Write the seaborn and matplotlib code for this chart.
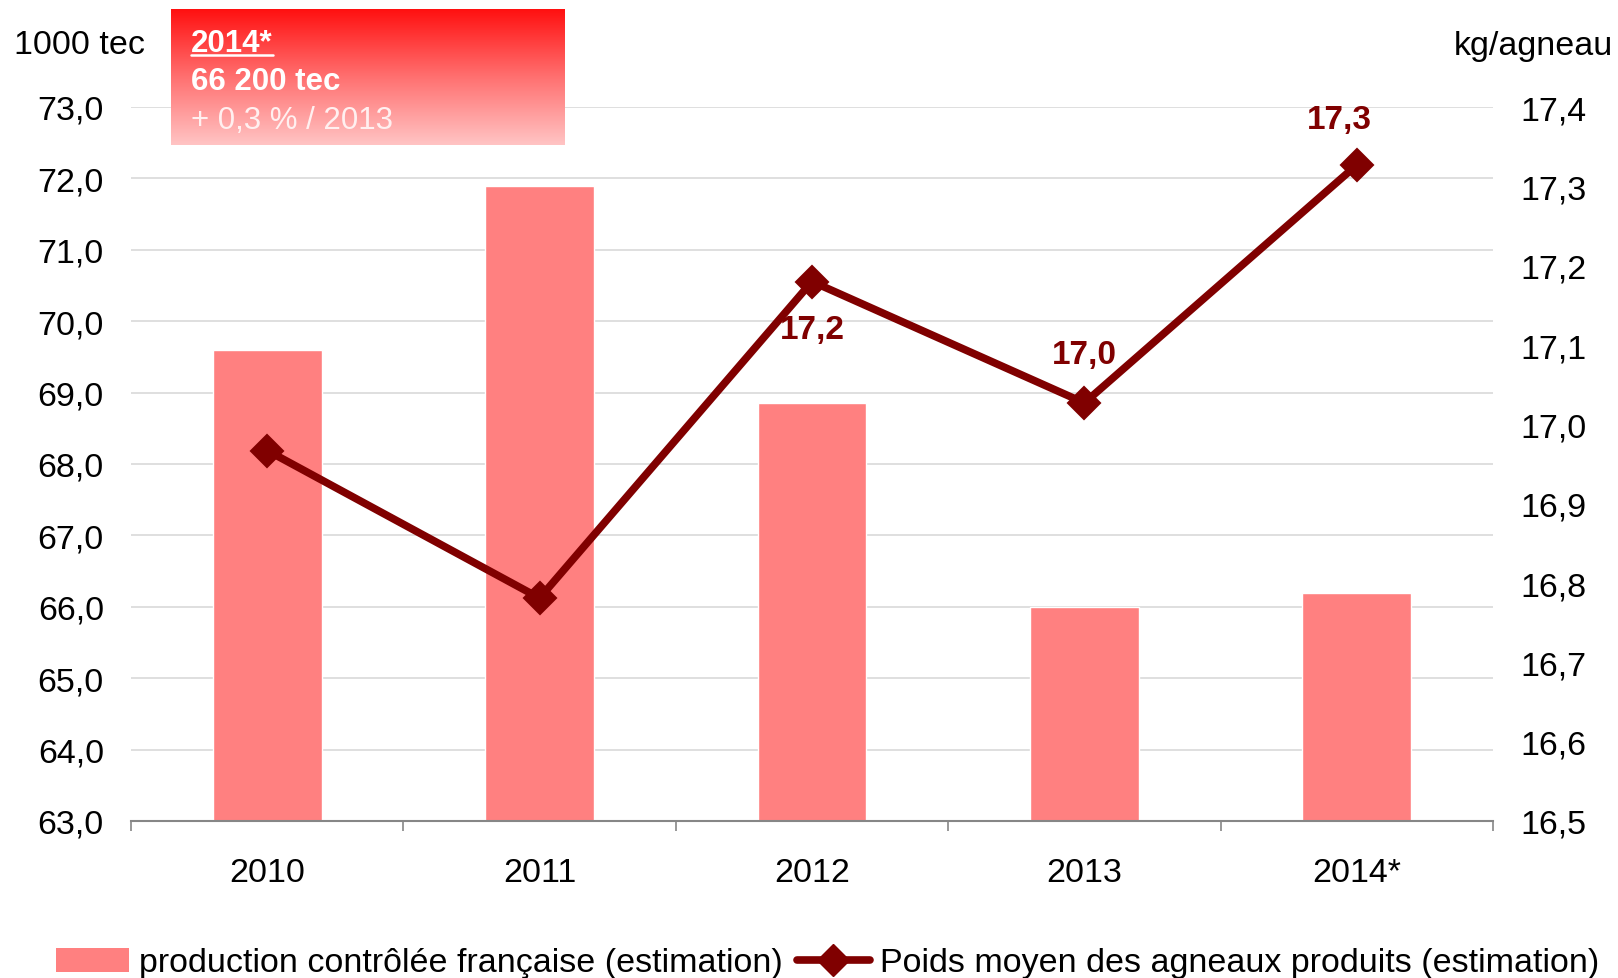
import numpy as np
import pandas as pd
import matplotlib
matplotlib.use("Agg")
import matplotlib.pyplot as plt
import seaborn as sns
from matplotlib.lines import Line2D
from matplotlib.patches import Patch
from matplotlib.colors import LinearSegmentedColormap
from matplotlib.ticker import FuncFormatter, MultipleLocator, FixedLocator

# ---- data ----
years = ["2010", "2011", "2012", "2013", "2014*"]
production = [69.6, 71.9, 68.85, 66.0, 66.2]          # 1000 tec
poids = [16.967, 16.781, 17.18, 17.027, 17.327]       # kg/agneau
label_idx = [2, 3, 4]
label_offsets_px = [(0, -48), (0, 48), (-17, 45)]
bar_label = "production contrôlée française (estimation)"
line_label = "Poids moyen des agneaux produits (estimation)"
box_lines = ["2014*", "66 200 tec", "+ 0,3 % / 2013"]

BAR_COLOR = "#ff8080"
LINE_COLOR = "#800000"

sns.set_style("white")
plt.rcParams["font.family"] = ["Liberation Sans", "DejaVu Sans"]
plt.rcParams["text.color"] = "black"
plt.rcParams["xtick.color"] = "black"
plt.rcParams["ytick.color"] = "black"

W, H = 1618, 979
fig = plt.figure(figsize=(W / 100, H / 100), dpi=100)
ax = fig.add_axes([131 / W, 1 - 822 / H, (1493 - 131) / W, (822 - 108) / H])

df = pd.DataFrame({"year": years, "production": production, "poids": poids})

sns.barplot(data=df, x="year", y="production", color=BAR_COLOR, saturation=1,
            width=0.4, ax=ax, zorder=2)
ax.set_ylim(63, 73)
ax.yaxis.set_major_locator(MultipleLocator(1))
ax.yaxis.set_major_formatter(FuncFormatter(lambda v, p: f"{v:.1f}".replace(".", ",")))
ax.grid(axis="y", color="#d9d9d9", linewidth=1.2, zorder=0)
ax.set_axisbelow(True)
ax.set_xlabel("")
ax.set_ylabel("")

ax2 = ax.twinx()
sns.pointplot(data=df, x="year", y="poids", color=LINE_COLOR, markers="D",
              linestyles="-", errorbar=None, ax=ax2, markersize=16,
              linewidth=5.5, markeredgewidth=1.5)
ax2.set_ylim(16.5, 17.4)
ax2.yaxis.set_major_locator(MultipleLocator(0.1))
ax2.yaxis.set_major_formatter(FuncFormatter(lambda v, p: f"{v:.1f}".replace(".", ",")))
ax2.set_ylabel("")
ax2.set_xlabel("")
ax2.grid(False)

for a in (ax, ax2):
    a.set_xlim(-0.5, 4.5)
    for s in ("left", "right", "top"):
        a.spines[s].set_visible(False)
ax2.spines["bottom"].set_visible(False)
ax.spines["bottom"].set_color("#868686")
ax.spines["bottom"].set_linewidth(1.5)

ax.tick_params(axis="y", length=0, pad=19.5, labelsize=24.5, labelcolor="black")
ax2.tick_params(axis="y", length=0, pad=20, labelsize=24.5, labelcolor="black")
ax.xaxis.set_minor_locator(FixedLocator(np.arange(-0.5, 5, 1)))
ax.tick_params(axis="x", which="major", length=0, pad=26, labelsize=24.5,
               labelcolor="black")
ax.tick_params(axis="x", which="minor", length=7.5, width=1.2, color="#868686",
               direction="out", bottom=True)

for i, (dx, dy) in zip(label_idx, label_offsets_px):
    txt = f"{poids[i]:.1f}".replace(".", ",")
    ax2.annotate(txt, (i, poids[i]), xytext=(dx, dy), textcoords="offset pixels",
                 ha="center", va="center", fontsize=24, fontweight="bold",
                 color=LINE_COLOR)

# axis unit labels
fig.text(80 / W, 1 - 46 / H, "1000 tec", ha="center", va="center", fontsize=24.5)
fig.text(1533 / W, 1 - 46 / H, "kg/agneau", ha="center", va="center", fontsize=24.5)

# gradient box
bx = fig.add_axes([171 / W, 1 - 146 / H, (565 - 171) / W, (146 - 10) / H], zorder=5)
cmap = LinearSegmentedColormap.from_list("g", ["#ff1010", "#ff7070", "#ffc4c4"])
grad = np.linspace(0, 1, 256).reshape(-1, 1)
bx.imshow(grad, aspect="auto", cmap=cmap, extent=[0, 1, 1, 0])
bx.set_axis_off()

t1 = fig.text(191 / W, 1 - 52 / H, box_lines[0], fontsize=22.5, fontweight="bold",
              color="white", va="baseline", zorder=6)
fig.text(191 / W, 1 - 90 / H, box_lines[1], fontsize=22.5, fontweight="bold",
         color="white", va="baseline", zorder=6)
fig.text(191 / W, 1 - 129 / H, box_lines[2], fontsize=22.5,
         color="#fff0f0", va="baseline", zorder=6)
fig.canvas.draw()
bb = t1.get_window_extent()
fig.add_artist(Line2D([bb.x0 / W, bb.x1 / W], [1 - 56 / H, 1 - 56 / H],
                      color="white", linewidth=1.8, zorder=7))

# legend
handles = [Patch(facecolor=BAR_COLOR, edgecolor="none"),
           Line2D([0], [0], color=LINE_COLOR, linewidth=5.5, marker="D",
                  markersize=16)]
fig.legend(handles, [bar_label, line_label], loc="center left",
           bbox_to_anchor=(56 / W, 1 - 964 / H), ncol=2, frameon=False,
           fontsize=24.5, handlelength=2.15, handleheight=0.7, handletextpad=0.3,
           columnspacing=0.4, borderpad=0, borderaxespad=0)

fig.savefig("out.png", dpi=100)
